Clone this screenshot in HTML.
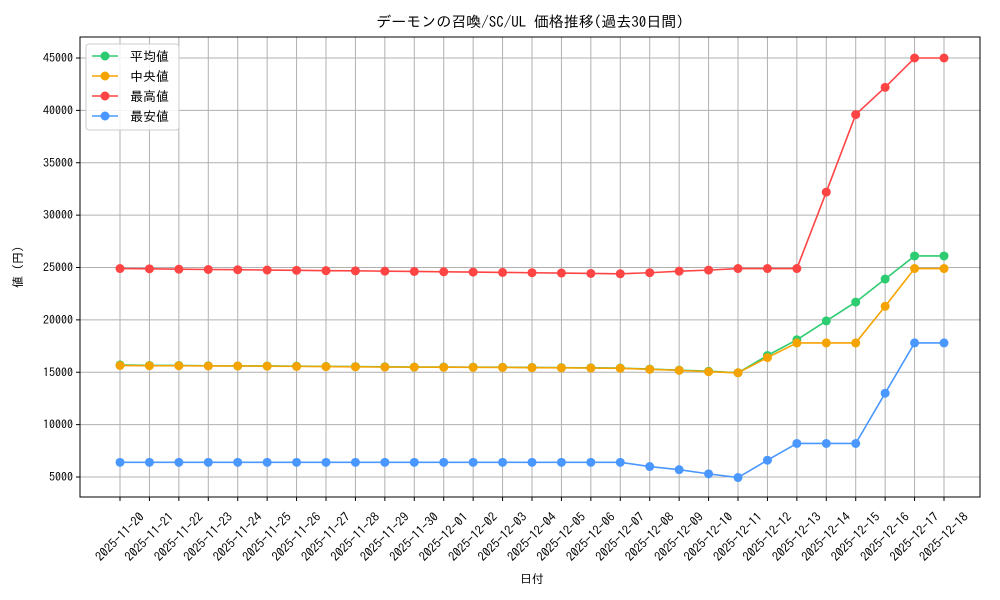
<!DOCTYPE html>
<html><head><meta charset="utf-8"><style>
body{margin:0;background:#fff;}
svg{display:block;font-family:"IPAGothic","Liberation Sans","Noto Sans CJK JP",sans-serif;}
</style></head><body>
<svg id="c" width="1000" height="600"></svg>
<script>
const dates=["2025-11-20","2025-11-21","2025-11-22","2025-11-23","2025-11-24","2025-11-25","2025-11-26","2025-11-27","2025-11-28","2025-11-29","2025-11-30","2025-12-01","2025-12-02","2025-12-03","2025-12-04","2025-12-05","2025-12-06","2025-12-07","2025-12-08","2025-12-09","2025-12-10","2025-12-11","2025-12-12","2025-12-13","2025-12-14","2025-12-15","2025-12-16","2025-12-17","2025-12-18"];
const avgVals=[15700,15650,15650,15620,15600,15600,15580,15560,15540,15520,15500,15500,15490,15480,15460,15440,15420,15400,15300,15200,15100,14950,16600,18100,19900,21700,23900,26100,26100];
const medVals=[15650,15620,15620,15600,15600,15580,15560,15540,15520,15500,15490,15480,15470,15460,15440,15420,15400,15380,15280,15180,15050,14950,16400,17800,17800,17800,21300,24900,24900];
const maxVals=[24900,24870,24840,24810,24790,24760,24730,24700,24680,24650,24620,24590,24560,24530,24500,24470,24430,24400,24500,24650,24750,24900,24900,24900,32200,39600,42200,45000,45000];
const minVals=[6400,6400,6400,6400,6400,6400,6400,6400,6400,6400,6400,6400,6400,6400,6400,6400,6400,6400,6000,5700,5300,4950,6600,8200,8200,8200,13000,17800,17800];
const yTicks=[5000,10000,15000,20000,25000,30000,35000,40000,45000];
const seriesNames=["平均値","中央値","最高値","最安値"];
const seriesColors=["#2ecc71","#f5a300","#ff4444","#4a98ff"];
const seriesData=[avgVals,medVals,maxVals,minVals];

const svg=document.getElementById('c');const NS="http://www.w3.org/2000/svg";
const L=80,R=980,T=37,B=497;
const x=i=>120+i*(944-120)/(dates.length-1);
const y=v=>477-(v-5000)*(419/40000);
function mk(t,a,p){const e=document.createElementNS(NS,t);for(const k in a)e.setAttribute(k,a[k]);(p||svg).appendChild(e);return e;}
dates.forEach((d,i)=>{const g=mk('line',{x1:x(i),x2:x(i),y1:T,y2:B,stroke:'#b0b0b0','stroke-width':1});


mk('line',{x1:x(i),x2:x(i),y1:B,y2:B+4,stroke:'#000'});
const cy=537;
const t=mk('text',{x:x(i),y:cy+4,'font-size':12.5,'text-anchor':'middle',transform:`rotate(-45 ${x(i)} ${cy})`});t.textContent=d;

});
yTicks.forEach(v=>{const g=mk('line',{x1:L,x2:R,y1:y(v),y2:y(v),stroke:'#b0b0b0','stroke-width':1});


mk('line',{x1:L-4,x2:L,y1:y(v),y2:y(v),stroke:'#000'});
const t=mk('text',{x:L-7,y:y(v)+4,'font-size':12,'text-anchor':'end'});t.textContent=v;

});
seriesData.forEach((s,k)=>{const p=mk('polyline',{points:s.map((v,i)=>x(i)+','+y(v)).join(' '),fill:'none',stroke:seriesColors[k],'stroke-width':1.6});


s.forEach((v,i)=>{const c=mk('circle',{cx:x(i),cy:y(v),r:4.5,fill:seriesColors[k]});

});});
const f=mk('rect',{x:L,y:T,width:R-L,height:B-T,fill:'none',stroke:'#000','stroke-width':1});


const tt=mk('text',{x:530,y:27,'font-size':15,'text-anchor':'middle'});tt.textContent="デーモンの召喚/SC/UL 価格推移(過去30日間)";


const xl=mk('text',{x:532,y:583,'font-size':12,'text-anchor':'middle'});xl.textContent="日付";


const yl=mk('text',{x:22,y:267,'font-size':12,'text-anchor':'middle',transform:'rotate(-90 22 267)'});yl.textContent="値 (円)";


const lg=mk('g',{});


mk('rect',{x:86,y:44,width:93,height:86,rx:3,fill:'#fff','fill-opacity':0.85,stroke:'#ccc'},lg);
seriesNames.forEach((n,k)=>{const yy=56+k*20;const e=mk('g',{},lg);


mk('line',{x1:92,x2:118,y1:yy,y2:yy,stroke:seriesColors[k],'stroke-width':1.6},e);
mk('circle',{cx:105,cy:yy,r:4.5,fill:seriesColors[k]},e);
const t=mk('text',{x:130,y:yy+5,'font-size':13},e);t.textContent=n;});
</script>
</body></html>
